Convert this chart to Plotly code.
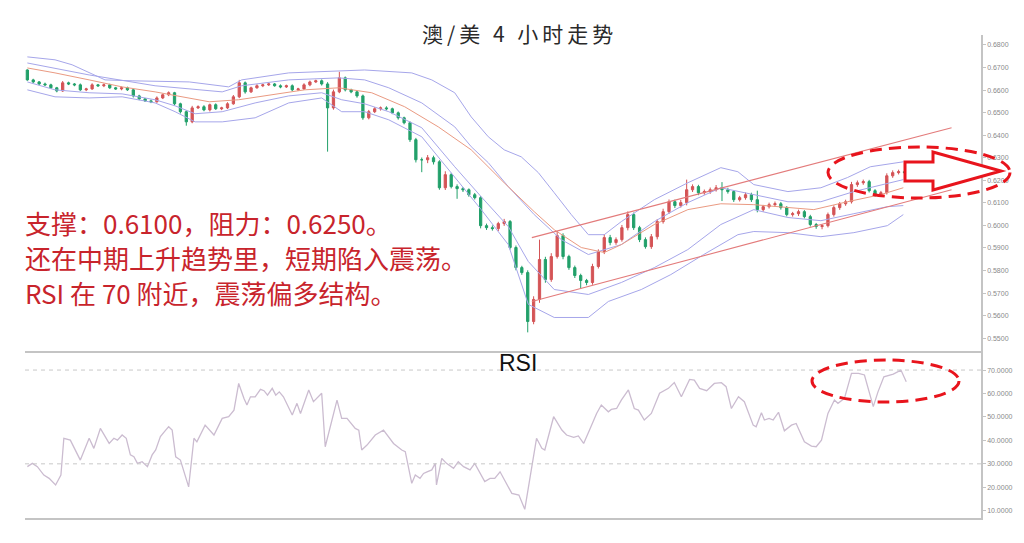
import plotly.graph_objects as go

# ---------------- DATA ----------------
first_open = 0.6689
closes = [
    0.6645, 0.6636, 0.6627, 0.6623, 0.6610, 0.6596, 0.6632, 0.6627, 0.6623, 0.6601,
    0.6605, 0.6623, 0.6619, 0.6623, 0.6610, 0.6605, 0.6610, 0.6601, 0.6574, 0.6561,
    0.6552, 0.6548, 0.6565, 0.6579, 0.6588, 0.6539, 0.6504, 0.6459, 0.6521, 0.6526,
    0.6512, 0.6535, 0.6517, 0.6521, 0.6539, 0.6570, 0.6632, 0.6592, 0.6610, 0.6619,
    0.6623, 0.6627, 0.6619, 0.6614, 0.6619, 0.6601, 0.6605, 0.6623, 0.6636, 0.6641,
    0.6627, 0.6521, 0.6592, 0.6654, 0.6601, 0.6592, 0.6574, 0.6477, 0.6504, 0.6517,
    0.6521, 0.6517, 0.6499, 0.6477, 0.6455, 0.6380, 0.6291, 0.6291, 0.6300, 0.6282,
    0.6167, 0.6225, 0.6172, 0.6163, 0.6158, 0.6136, 0.6123, 0.5999, 0.5990, 0.5986,
    0.6008, 0.6017, 0.5902, 0.5813, 0.5791, 0.5574, 0.5672, 0.5849, 0.5760, 0.5862,
    0.5955, 0.5862, 0.5813, 0.5778, 0.5756, 0.5747, 0.5818, 0.5884, 0.5946, 0.5924,
    0.5937, 0.5990, 0.6048, 0.5990, 0.5937, 0.5906, 0.5950, 0.6017, 0.6061, 0.6105,
    0.6088, 0.6101, 0.6158, 0.6172, 0.6145, 0.6150, 0.6158, 0.6167, 0.6158, 0.6150,
    0.6114, 0.6123, 0.6136, 0.6114, 0.6070, 0.6083, 0.6092, 0.6096, 0.6079, 0.6048,
    0.6052, 0.6061, 0.6039, 0.6004, 0.5995, 0.5999, 0.6048, 0.6079, 0.6096, 0.6105,
    0.6181, 0.6189, 0.6194, 0.6154, 0.6136, 0.6145, 0.6220, 0.6234, 0.6238, 0.6234,
]
# wick lengths above / below the body, in pips (0.0001)
upper_wick = [
    3, 5, 4, 6, 5, 4, 8, 5, 4, 6,
    5, 7, 4, 6, 5, 4, 6, 5, 4, 5,
    4, 6, 7, 5, 6, 4, 5, 6, 9, 6,
    7, 5, 6, 5, 7, 8, 13, 6, 5, 7,
    5, 6, 4, 6, 5, 6, 5, 7, 6, 5,
    6, 8, 10, 27, 6, 5, 4, 6, 8, 7,
    6, 7, 5, 6, 5, 6, 8, 10, 12, 9,
    7, 15, 8, 10, 7, 6, 8, 7, 9, 10,
    8, 12, 7, 9, 8, 10, 14, 88, 12, 15,
    20, 10, 8, 9, 8, 7, 12, 10, 15, 12,
    10, 12, 14, 9, 8, 10, 12, 11, 13, 10,
    9, 12, 45, 10, 8, 9, 10, 12, 25, 9,
    7, 8, 10, 9, 40, 8, 9, 10, 8, 7,
    8, 9, 7, 8, 7, 6, 9, 10, 8, 9,
    12, 10, 9, 8, 7, 8, 11, 10, 9, 8,
]
lower_wick = [
    4, 5, 6, 4, 5, 6, 4, 5, 6, 5,
    6, 4, 5, 6, 5, 4, 6, 5, 7, 6,
    5, 6, 4, 5, 6, 7, 8, 17, 6, 5,
    6, 7, 5, 6, 5, 4, 6, 8, 5, 4,
    6, 5, 4, 6, 5, 6, 5, 4, 6, 5,
    7, 194, 8, 6, 7, 6, 8, 9, 7, 6,
    8, 7, 6, 8, 7, 10, 12, 55, 15, 12,
    9, 10, 8, 45, 10, 9, 8, 12, 10, 9,
    11, 10, 9, 12, 10, 48, 12, 15, 14, 10,
    9, 12, 10, 11, 35, 12, 10, 9, 11, 12,
    10, 9, 12, 10, 11, 9, 10, 12, 9, 10,
    11, 9, 12, 10, 11, 9, 10, 8, 50, 9,
    10, 8, 9, 10, 12, 9, 8, 10, 9, 8,
    9, 10, 8, 9, 10, 12, 8, 9, 10, 9,
    8, 10, 9, 8, 9, 10, 8, 9, 8, 9,
]

# Bollinger-type lines (bar index, price)
bb_outer_up_bar = [0.0, 4.7, 7.6, 10.5, 13.2, 17.8, 27.5, 34.2, 36.4, 44.4, 50.0, 57.3, 65.3, 68.7, 72.6, 75.4,
                   78.3, 81.0, 83.9, 86.8, 89.5, 92.4, 95.3, 98.0, 100.9, 106.5, 112.2, 117.8, 120.7, 123.4,
                   129.2, 134.8, 139.3, 143.2, 148.8]
bb_outer_up_val = [0.6747, 0.6734, 0.6712, 0.6676, 0.6645, 0.6641, 0.6636, 0.6614, 0.6645, 0.6676, 0.6681, 0.6689,
                   0.6676, 0.6645, 0.6588, 0.6481, 0.6393, 0.6335, 0.6304, 0.6234, 0.6145, 0.6048, 0.5959,
                   0.5959, 0.6017, 0.6114, 0.6189, 0.6256, 0.6238, 0.6181, 0.6150, 0.6167, 0.6212, 0.6260, 0.6282]
bb_inner_up_bar = [0.0, 10.5, 21.7, 33.1, 36.4, 44.4, 52.9, 57.3, 61.4, 67.0, 72.6, 75.4, 78.3, 81.7, 86.1, 90.7,
                   95.3, 100.9, 106.5, 112.2, 117.8, 123.4, 129.2, 134.8, 140.4, 148.8]
bb_inner_up_val = [0.6720, 0.6667, 0.6619, 0.6592, 0.6619, 0.6645, 0.6654, 0.6645, 0.6610, 0.6543, 0.6437, 0.6349,
                   0.6278, 0.6172, 0.6048, 0.5937, 0.5871, 0.5915, 0.6017, 0.6101, 0.6167, 0.6136, 0.6105, 0.6105,
                   0.6150, 0.6203]
bb_mid_bar = [0.0, 4.7, 10.5, 16.1, 21.7, 27.5, 30.9, 35.9, 41.5, 47.1, 52.9, 58.5, 64.1, 69.8, 75.4, 81.0, 86.1,
              89.5, 94.1, 98.0, 100.9, 106.5, 112.2, 117.8, 123.4, 129.2, 133.6, 139.3, 144.9, 148.8]
bb_mid_val = [0.6698, 0.6676, 0.6645, 0.6614, 0.6592, 0.6565, 0.6548, 0.6557, 0.6579, 0.6601, 0.6610, 0.6588,
              0.6526, 0.6437, 0.6335, 0.6189, 0.6061, 0.5981, 0.5902, 0.5880, 0.5915, 0.6004, 0.6070, 0.6096,
              0.6092, 0.6079, 0.6070, 0.6105, 0.6136, 0.6167]
bb_inner_lo_bar = [0.0, 4.7, 10.5, 16.1, 21.7, 25.1, 28.5, 33.1, 38.7, 44.4, 50.0, 53.4, 57.3, 61.4, 67.0, 72.6,
                   77.1, 81.7, 85.1, 89.5, 95.3, 100.9, 106.5, 112.2, 117.8, 123.4, 129.2, 134.8, 140.4, 146.1, 148.8]
bb_inner_lo_val = [0.6636, 0.6601, 0.6588, 0.6583, 0.6557, 0.6530, 0.6495, 0.6504, 0.6543, 0.6574, 0.6588, 0.6557,
                   0.6539, 0.6504, 0.6433, 0.6260, 0.6127, 0.5995, 0.5840, 0.5716, 0.5694, 0.5747, 0.5813, 0.5893,
                   0.6004, 0.6070, 0.6035, 0.6021, 0.6052, 0.6083, 0.6088]
bb_outer_lo_bar = [0.0, 4.7, 10.5, 16.1, 21.7, 25.1, 28.5, 33.1, 38.7, 44.4, 50.0, 53.4, 57.3, 61.4, 67.0, 72.6,
                   77.1, 81.7, 85.1, 89.5, 95.3, 98.7, 104.3, 109.3, 114.9, 120.7, 123.4, 129.2, 134.8, 140.4,
                   146.1, 148.8]
bb_outer_lo_val = [0.6601, 0.6570, 0.6565, 0.6570, 0.6543, 0.6504, 0.6459, 0.6459, 0.6477, 0.6543, 0.6565, 0.6504,
                   0.6504, 0.6468, 0.6393, 0.6212, 0.6070, 0.5915, 0.5650, 0.5592, 0.5592, 0.5663, 0.5716, 0.5782,
                   0.5871, 0.5959, 0.5973, 0.5968, 0.5950, 0.5968, 0.5999, 0.6048]

# rising channel
channel_bar = [85.7, 157.0]
channel_upper = [0.5946, 0.6433]
channel_lower = [0.5663, 0.6158]

# RSI
rsi_bar = [0.0, 0.85, 1.7, 2.8, 3.7, 4.8, 5.7, 6.2, 7.3, 7.9, 9.0, 10.5, 11.3, 12.4, 13.9, 14.7, 15.3, 16.1, 16.8,
           17.5, 18.1, 18.7, 19.5, 20.4, 21.2, 21.8, 22.6, 23.5, 24.0, 24.6, 25.2, 26.0, 27.4, 28.3, 28.8, 30.2,
           31.7, 33.1, 34.2, 35.1, 35.9, 36.8, 37.3, 37.9, 38.7, 39.6, 40.2, 40.8, 41.6, 42.2, 42.8, 43.5, 45.0,
           45.8, 46.4, 47.8, 48.6, 50.0, 50.6, 52.6, 53.4, 54.3, 55.7, 56.3, 56.8, 57.7, 59.1, 60.5, 61.4, 62.2,
           63.6, 64.2, 65.3, 65.9, 66.7, 67.3, 67.9, 68.7, 69.3, 69.5, 70.4, 71.2, 72.4, 73.2, 74.1, 75.2, 76.0,
           77.7, 78.6, 79.4, 80.3, 81.4, 82.3, 83.5, 84.5, 85.7, 86.5, 87.4, 87.9, 89.4, 90.8, 91.6, 92.8, 93.6,
           94.5, 95.5, 96.7, 97.5, 98.7, 99.2, 100.1, 100.9, 102.1, 103.1, 103.8, 104.8, 106.0, 107.4, 108.9,
           109.9, 111.1, 112.5, 113.3, 114.2, 115.4, 116.7, 117.9, 118.7, 119.6, 120.8, 121.8, 123.3, 123.8,
           124.7, 125.2, 126.0, 126.7, 127.6, 128.6, 129.8, 130.6, 132.0, 133.2, 134.0, 134.9, 136.0, 137.1,
           137.7, 138.8, 140.0, 141.2, 142.2, 143.7, 144.5, 145.5, 147.1, 148.4, 149.3]
rsi_val = [28.8, 30.2, 28.8, 25.2, 23.8, 21.0, 25.2, 40.9, 40.1, 37.3, 31.6, 40.9, 36.6, 45.1, 38.7, 40.9, 40.1,
           42.3, 40.9, 33.8, 33.0, 30.2, 30.9, 28.8, 33.8, 35.9, 41.6, 44.4, 45.8, 44.4, 33.0, 31.6, 20.2, 40.9,
           39.4, 46.5, 42.3, 49.4, 50.1, 52.9, 64.3, 57.9, 55.1, 58.6, 58.6, 61.8, 61.2, 59.3, 62.2, 59.3, 60.7,
           58.6, 50.8, 55.8, 51.5, 61.5, 56.5, 60.1, 37.3, 57.2, 49.4, 49.4, 45.1, 44.4, 35.9, 38.0, 42.3, 44.4,
           41.6, 38.7, 35.9, 35.2, 21.7, 25.2, 23.8, 25.9, 26.6, 27.4, 30.2, 21.0, 32.3, 30.2, 28.1, 30.9, 28.8,
           27.4, 30.2, 22.4, 23.8, 23.8, 26.6, 21.7, 17.4, 16.7, 10.6, 28.8, 40.9, 36.6, 35.9, 50.1, 44.4, 42.3,
           41.3, 41.9, 38.7, 44.4, 51.5, 55.1, 52.2, 53.2, 53.6, 57.2, 61.5, 53.6, 52.9, 48.7, 51.5, 60.1, 62.2,
           64.7, 58.6, 66.0, 65.7, 62.2, 61.2, 64.3, 64.6, 62.9, 53.6, 58.6, 56.5, 46.5, 45.8, 51.8, 48.7, 49.4,
           48.7, 52.0, 44.1, 46.5, 47.2, 39.4, 37.6, 37.3, 40.1, 51.5, 57.2, 55.8, 57.9, 68.6, 68.6, 67.9, 54.4,
           60.7, 67.1, 68.3, 70.0, 65.0]

price_ticks = [0.55, 0.56, 0.57, 0.58, 0.59, 0.60, 0.61, 0.62, 0.63, 0.64, 0.65, 0.66, 0.67, 0.68]
rsi_ticks = [10, 20, 30, 40, 50, 60, 70]
rsi_levels = [30, 70]

title_text = "澳/美 4 小时走势"
comment_lines = ["支撑：0.6100，阻力：0.6250。",
                 "还在中期上升趋势里，短期陷入震荡。",
                 "RSI 在 70 附近，震荡偏多结构。"]

# ---------------- BUILD ----------------
W, H = 1024, 543
def px(x):
    return x / W
def py(y):
    return 1 - y / H

bars = list(range(len(closes)))
opens = [first_open] + closes[:-1]
highs = [max(o, c) + u * 1e-4 for o, c, u in zip(opens, closes, upper_wick)]
lows = [min(o, c) - l * 1e-4 for o, c, l in zip(opens, closes, lower_wick)]

RED = "#d45456"
GREEN = "#22a06a"
BAND = "#a6a6ea"
MID = "#ea9a82"
CHAN = "#e37b7b"
GRAYAX = "#c4c4c4"

fig = go.Figure()

for bx, by, col in [(bb_outer_up_bar, bb_outer_up_val, BAND),
                    (bb_inner_up_bar, bb_inner_up_val, BAND),
                    (bb_inner_lo_bar, bb_inner_lo_val, BAND),
                    (bb_outer_lo_bar, bb_outer_lo_val, BAND),
                    (bb_mid_bar, bb_mid_val, MID)]:
    fig.add_trace(go.Scatter(x=bx, y=by, mode="lines", line=dict(color=col, width=1),
                             hoverinfo="skip", xaxis="x", yaxis="y"))

for cy in (channel_upper, channel_lower):
    fig.add_trace(go.Scatter(x=channel_bar, y=cy, mode="lines", line=dict(color=CHAN, width=1.1),
                             hoverinfo="skip", xaxis="x", yaxis="y"))

fig.add_trace(go.Candlestick(
    x=bars, open=opens, high=highs, low=lows, close=closes,
    increasing=dict(line=dict(color=RED, width=1), fillcolor=RED),
    decreasing=dict(line=dict(color=GREEN, width=1), fillcolor=GREEN),
    whiskerwidth=0, hoverinfo="skip", xaxis="x", yaxis="y"))

fig.add_trace(go.Scatter(x=rsi_bar, y=rsi_val, mode="lines", line=dict(color="#cbbcd0", width=1.3),
                         hoverinfo="skip", xaxis="x2", yaxis="y2"))

shapes = []
for lv in rsi_levels:
    shapes.append(dict(type="line", xref="x2 domain", x0=0, x1=1, yref="y2", y0=lv, y1=lv,
                       line=dict(color="#c8c8c8", width=1, dash="4px,4px")))

# red dashed highlight ellipses and hollow arrow
shapes.append(dict(type="circle", xref="paper", yref="paper",
                   x0=px(828), x1=px(1010), y0=py(198), y1=py(147),
                   line=dict(color="#e8141c", width=3, dash="12px,7px")))
shapes.append(dict(type="circle", xref="paper", yref="paper",
                   x0=px(812), x1=px(959), y0=py(402), y1=py(360),
                   line=dict(color="#e8141c", width=3, dash="12px,7px")))
arrow_pts = [(905, 162), (933, 162), (933, 152), (1001, 171), (933, 190), (933, 181), (905, 181)]
path = "M " + " L ".join(f"{px(a):.5f},{py(b):.5f}" for a, b in arrow_pts) + " Z"
shapes.append(dict(type="path", xref="paper", yref="paper", path=path,
                   line=dict(color="#e8141c", width=3), fillcolor="white"))

annotations = [
    dict(text='<span style="letter-spacing:4px">' + title_text + '</span>',
         x=px(519), y=py(33), xref="paper", yref="paper", xanchor="center", yanchor="middle",
         showarrow=False, font=dict(family="Noto Sans CJK SC", size=21, color="#2a2a2a")),
    dict(text="RSI", x=px(518), y=py(363), xref="paper", yref="paper", xanchor="center", yanchor="middle",
         showarrow=False, font=dict(family="Liberation Sans, Arial", size=23, color="#111111")),
]
for i, line in enumerate(comment_lines):
    annotations.append(dict(text=line, x=px(23), y=py(222 + 35 * i), xref="paper", yref="paper",
                            xanchor="left", yanchor="middle", showarrow=False,
                            font=dict(family="Noto Sans CJK SC", size=26, color="#c8242c")))

X_DOM = [px(25), px(981)]
fig.update_layout(
    width=W, height=H, margin=dict(l=0, r=0, t=0, b=0),
    paper_bgcolor="white", plot_bgcolor="white", showlegend=False,
    boxgap=0.45,
    shapes=shapes, annotations=annotations,
    xaxis=dict(domain=X_DOM, range=[-0.4, 162], anchor="y", visible=False,
               rangeslider=dict(visible=False), showgrid=False, zeroline=False),
    yaxis=dict(domain=[py(352), py(35)], range=[0.5439, 0.6844], side="right", anchor="x",
               showline=True, linecolor=GRAYAX, linewidth=1.5, ticks="outside", ticklen=3,
               tickcolor=GRAYAX, tickvals=price_ticks, ticktext=[f"{v:.4f}" for v in price_ticks],
               tickfont=dict(size=7, color="#8a8a8a", family="Liberation Sans, Arial"),
               showgrid=False, zeroline=False),
    xaxis2=dict(domain=X_DOM, range=[-0.4, 162], anchor="y2", showline=True, mirror=True,
                linecolor=GRAYAX, linewidth=1.5, showticklabels=False, ticks="",
                showgrid=False, zeroline=False),
    yaxis2=dict(domain=[py(518), py(352.7)], range=[6.9, 77.4], side="right", anchor="x2",
                showline=True, linecolor=GRAYAX, linewidth=1.5, ticks="outside", ticklen=3,
                tickcolor=GRAYAX, tickvals=rsi_ticks, ticktext=[f"{v:.4f}" for v in rsi_ticks],
                tickfont=dict(size=7, color="#8a8a8a", family="Liberation Sans, Arial"),
                showgrid=False, zeroline=False),
)

fig.write_html("out.html", config={"displayModeBar": False},
               post_script="document.body.style.margin='0';document.body.style.overflow='hidden';")
